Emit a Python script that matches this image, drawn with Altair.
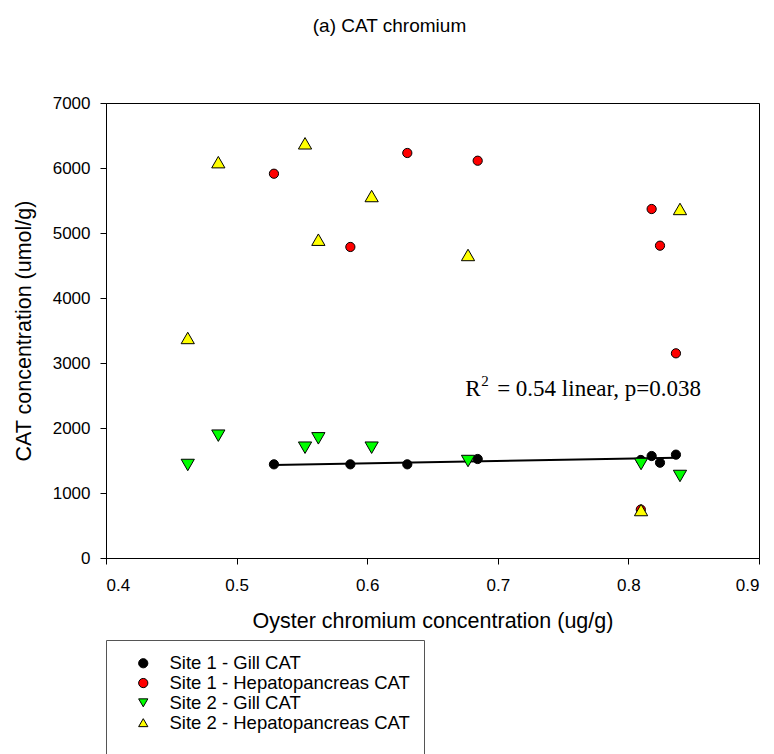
import altair as alt
import pandas as pd

# Oyster chromium concentration (ug/g) and CAT activity (umol/g) per series
series_names = [
    "Site 1 - Gill CAT",
    "Site 1 - Hepatopancreas CAT",
    "Site 2 - Gill CAT",
    "Site 2 - Hepatopancreas CAT",
]
series_fill = ["#000000", "#ff0000", "#00ff00", "#ffff00"]
series_outline = ["#000000", "#000000", "#000000", "#000000"]
series_shape = ["circle", "circle", "triangle-down", "triangle-up"]

s1_gill_x = [0.5286, 0.5871, 0.6307, 0.6846, 0.8095, 0.8178, 0.8242, 0.8364]
s1_gill_y = [1441, 1441, 1441, 1523, 1508, 1569, 1466, 1590]

s1_hep_x = [0.5286, 0.5871, 0.6307, 0.6846, 0.8095, 0.8178, 0.8242, 0.8364]
s1_hep_y = [5912, 4785, 6231, 6112, 745, 5369, 4805, 3149]

s2_gill_x = [0.4626, 0.4860, 0.5524, 0.5626, 0.6034, 0.6772, 0.8097, 0.8395]
s2_gill_y = [1431, 1882, 1697, 1841, 1697, 1492, 1446, 1262]

s2_hep_x = [0.4626, 0.4860, 0.5524, 0.5626, 0.6034, 0.6772, 0.8097, 0.8395]
s2_hep_y = [3385, 6090, 6380, 4897, 5569, 4662, 738, 5370]

x_ticks = [0.4, 0.5, 0.6, 0.7, 0.8, 0.9]
y_ticks = [0, 1000, 2000, 3000, 4000, 5000, 6000, 7000]

rows = []
for name, xs, ys in zip(
    series_names,
    [s1_gill_x, s1_hep_x, s2_gill_x, s2_hep_x],
    [s1_gill_y, s1_hep_y, s2_gill_y, s2_hep_y],
):
    for xv, yv in zip(xs, ys):
        rows.append({"series": name, "x": xv, "y": yv})
df = pd.DataFrame(rows)

FONT = "Liberation Sans"

x_enc = alt.X(
    "x:Q",
    scale=alt.Scale(domain=[0.4, 0.9], nice=False, zero=False),
    axis=alt.Axis(
        title="Oyster chromium concentration (ug/g)",
        values=x_ticks,
        format=".1f",
        labelPadding=13,
        titleY=63,
        titleBaseline="middle",
    ),
)
y_enc = alt.Y(
    "y:Q",
    scale=alt.Scale(domain=[0, 7000], nice=False),
    axis=alt.Axis(
        title="CAT concentration (umol/g)",
        values=y_ticks,
        format="d",
        labelPadding=10,
        titleX=-82,
        titleY=227.5,
        titleAlign="center",
        titleBaseline="middle",
    ),
)

legend = alt.Legend(
    title=" ",
    orient="none",
    legendX=0,
    legendY=537,
    padding=14,
    strokeColor="#555555",
    fillColor="white",
    symbolSize=85,
    symbolOffset=14,
    symbolStrokeWidth=1,
    labelOffset=17,
    labelFont=FONT,
    labelFontSize=18.5,
    labelColor="black",
    labelLimit=400,
    rowPadding=0.8,
    titleOrient="bottom",
    titleFontSize=22,
    titlePadding=6,
)

fill_enc = alt.Fill(
    "series:N",
    scale=alt.Scale(domain=series_names, range=series_fill),
    legend=legend,
)
shape_enc = alt.Shape(
    "series:N",
    scale=alt.Scale(domain=series_names, range=series_shape),
    legend=legend,
)
stroke_enc = alt.Stroke(
    "series:N",
    scale=alt.Scale(domain=series_names, range=series_outline),
    legend=legend,
)

base = alt.Chart(df)

fit = (
    base.transform_filter(alt.datum.series == series_names[0])
    .transform_regression("x", "y")
    .mark_line(color="black", strokeWidth=2)
    .encode(x=x_enc, y=y_enc)
)

# Site 1 series are circles, Site 2 series are triangles
circles = (
    base.transform_filter(alt.FieldOneOfPredicate("series", series_names[:2]))
    .mark_point(filled=True, strokeWidth=1, opacity=1, size=85)
    .encode(x=x_enc, y=y_enc, fill=fill_enc, shape=shape_enc, stroke=stroke_enc)
)
triangles = (
    base.transform_filter(alt.FieldOneOfPredicate("series", series_names[2:]))
    .mark_point(filled=True, strokeWidth=1, opacity=1, size=175)
    .encode(x=x_enc, y=y_enc, fill=fill_enc, shape=shape_enc, stroke=stroke_enc)
)

# regression annotation: R, superscript 2, and the rest of the statement
ann_x, ann_y = 0.675, 2500
ann_r = alt.Chart(pd.DataFrame({"a": [0]})).mark_text(
    text="R", font="Liberation Serif", fontSize=23, align="left",
    baseline="alphabetic", color="black",
).encode(x=alt.datum(ann_x), y=alt.datum(ann_y))
ann_sup = alt.Chart(pd.DataFrame({"a": [0]})).mark_text(
    text="2", font="Liberation Serif", fontSize=15, align="left",
    baseline="alphabetic", color="black", dx=16, dy=-10,
).encode(x=alt.datum(ann_x), y=alt.datum(ann_y))
ann_rest = alt.Chart(pd.DataFrame({"a": [0]})).mark_text(
    text="= 0.54 linear, p=0.038", font="Liberation Serif", fontSize=23,
    align="left", baseline="alphabetic", color="black", dx=32,
).encode(x=alt.datum(ann_x), y=alt.datum(ann_y))

chart = (
    alt.layer(fit, circles, triangles, ann_r, ann_sup, ann_rest)
    .properties(
        width=653,
        height=455,
        autosize=alt.AutoSizeParams(type="none"),
        padding={"left": 106, "top": 103, "right": 15, "bottom": 196},
        title=alt.TitleParams(
            "(a) CAT chromium",
            font=FONT,
            fontSize=19,
            fontWeight="normal",
            color="black",
            anchor="middle",
            frame="group",
            baseline="alphabetic",
            dx=-43,
            offset=43,
        ),
        background="white",
    )
    .configure_view(stroke="black", strokeWidth=1)
    .configure_axis(
        domainColor="black",
        domainWidth=1,
        tickColor="black",
        tickSize=6,
        tickWidth=1,
        grid=False,
        labelFont=FONT,
        labelFontSize=17,
        labelColor="black",
        titleFont=FONT,
        titleFontSize=21.5,
        titleFontWeight="normal",
        titleColor="black",
    )
)

chart.save("out.html", embed_options={"renderer": "svg", "actions": False})
